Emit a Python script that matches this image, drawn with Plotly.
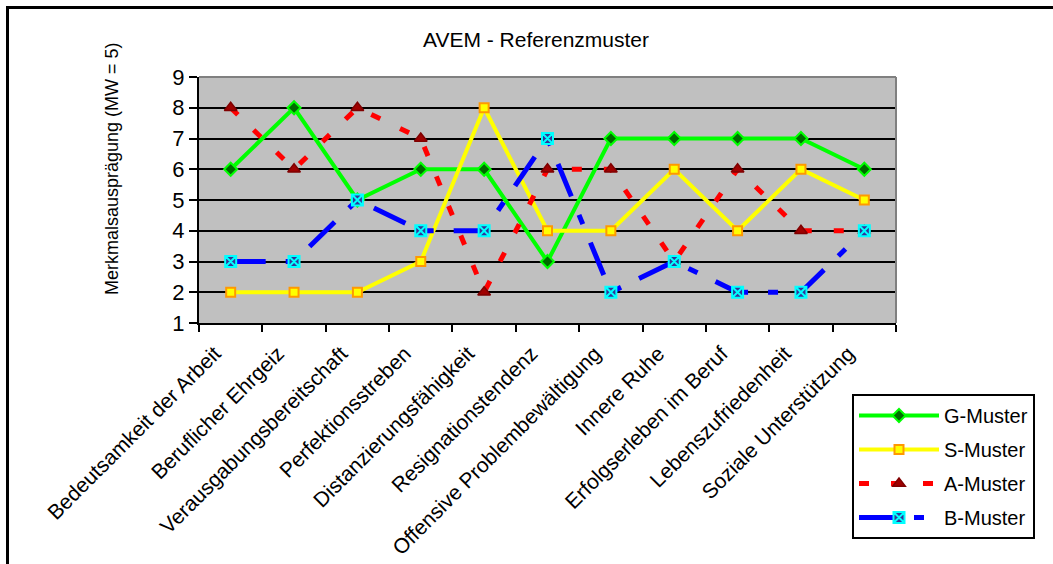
import plotly.graph_objects as go

# AVEM scales (work-related behaviour and experience patterns)
categories = [
    "Bedeutsamkeit der Arbeit",
    "Beruflicher Ehrgeiz",
    "Verausgabungsbereitschaft",
    "Perfektionsstreben",
    "Distanzierungsfähigkeit",
    "Resignationstendenz",
    "Offensive Problembewältigung",
    "Innere Ruhe",
    "Erfolgserleben im Beruf",
    "Lebenszufriedenheit",
    "Soziale Unterstützung",
]

# Stanine profile values of the four reference patterns
g_muster = [6, 8, 5, 6, 6, 3, 7, 7, 7, 7, 6]
s_muster = [2, 2, 2, 3, 8, 4, 4, 6, 4, 6, 5]
a_muster = [8, 6, 8, 7, 2, 6, 6, 3, 6, 4, 4]
b_muster = [3, 3, 5, 4, 4, 7, 2, 3, 2, 2, 4]

y_ticks = [1, 2, 3, 4, 5, 6, 7, 8, 9]

FONT = "Liberation Sans, Arial, sans-serif"

fig = go.Figure()

fig.add_trace(go.Scatter(
    x=categories, y=g_muster, name="G-Muster", mode="lines+markers",
    legendgroup="g",
    line=dict(color="#00FF00", width=4),
    marker=dict(symbol="diamond", size=10, color="#006A00",
                line=dict(color="#00FF00", width=2)),
))
fig.add_trace(go.Scatter(
    x=categories, y=s_muster, name="S-Muster", mode="lines+markers",
    legendgroup="s",
    line=dict(color="#FFFF00", width=4),
    marker=dict(symbol="square", size=9, color="#FFFF00",
                line=dict(color="#FF9900", width=2)),
))
fig.add_trace(go.Scatter(
    x=categories, y=a_muster, name="A-Muster", mode="lines+markers",
    legendgroup="a",
    line=dict(color="#FF0000", width=5, dash="10px,22px"),
    marker=dict(symbol="triangle-up", size=11, color="#A00000",
                line=dict(color="#800000", width=1.5)),
))
fig.add_trace(go.Scatter(
    x=categories, y=b_muster, name="B-Muster", mode="lines+markers",
    legendgroup="b",
    line=dict(color="#0000FF", width=5, dash="35px,20px,10px,20px"),
    marker=dict(symbol="square-x", size=11, color="#333399",
                line=dict(color="#00FFFF", width=2)),
))

# plot area spans x 199..896 px, y 77..323 px
L, R, T, B = 199, 157, 77, 241
W, H = 1053, 564
pw, ph = W - L - R, H - T - B


def px(xpix):
    return (xpix - L) / pw


def py(ypix):
    return (H - B - ypix) / ph


fig.update_layout(
    width=W, height=H,
    margin=dict(l=L, r=R, t=T, b=B, autoexpand=False),
    paper_bgcolor="white",
    plot_bgcolor="#C0C0C0",
    font=dict(family=FONT, color="black", size=20),
    title=dict(text="AVEM - Referenzmuster", font=dict(size=21),
               x=px(536), xref="paper", xanchor="center",
               y=(H - 40) / H, yref="container", yanchor="middle"),
    xaxis=dict(
        type="category", range=[-0.5, len(categories) - 0.5],
        tickson="boundaries", ticks="outside",
        ticklen=7, tickwidth=2, tickcolor="black",
        showline=True, linecolor="black", linewidth=2,
        showgrid=False, tickangle=-45, automargin=False,
        ticklabelshift=-16, ticklabelstandoff=8,
        tickfont=dict(size=21),
    ),
    yaxis=dict(
        range=[1, 9], tickvals=y_ticks, ticks="outside",
        ticklen=8, tickwidth=2, tickcolor="black",
        showline=True, linecolor="black", linewidth=2,
        showgrid=True, gridcolor="black", gridwidth=2,
        zeroline=False, automargin=False, tickfont=dict(size=22),
    ),
    legend=dict(
        x=px(852), y=py(394), xanchor="left", yanchor="top",
        bgcolor="white", bordercolor="black", borderwidth=2,
        font=dict(size=20), itemwidth=80, tracegroupgap=5,
        traceorder="grouped",
    ),
    annotations=[dict(
        text="Merkmalsausprägung (MW = 5)", textangle=-90,
        xref="paper", yref="paper", x=px(112), y=py(169),
        xanchor="center", yanchor="middle", showarrow=False,
        font=dict(size=18),
    )],
    shapes=[
        # grey frame on the top and right of the plot area
        dict(type="line", xref="paper", yref="paper", x0=0, x1=1, y0=1, y1=1,
             line=dict(color="#808080", width=2), layer="above"),
        dict(type="line", xref="paper", yref="paper", x0=1, x1=1, y0=0, y1=1,
             line=dict(color="#808080", width=2), layer="above"),
        # outer chart border
        dict(type="rect", xref="paper", yref="paper",
             x0=px(7.5), x1=px(1100), y0=py(620), y1=py(7.5),
             line=dict(color="black", width=3), layer="below"),
    ],
)

fig.write_html("out.html")
